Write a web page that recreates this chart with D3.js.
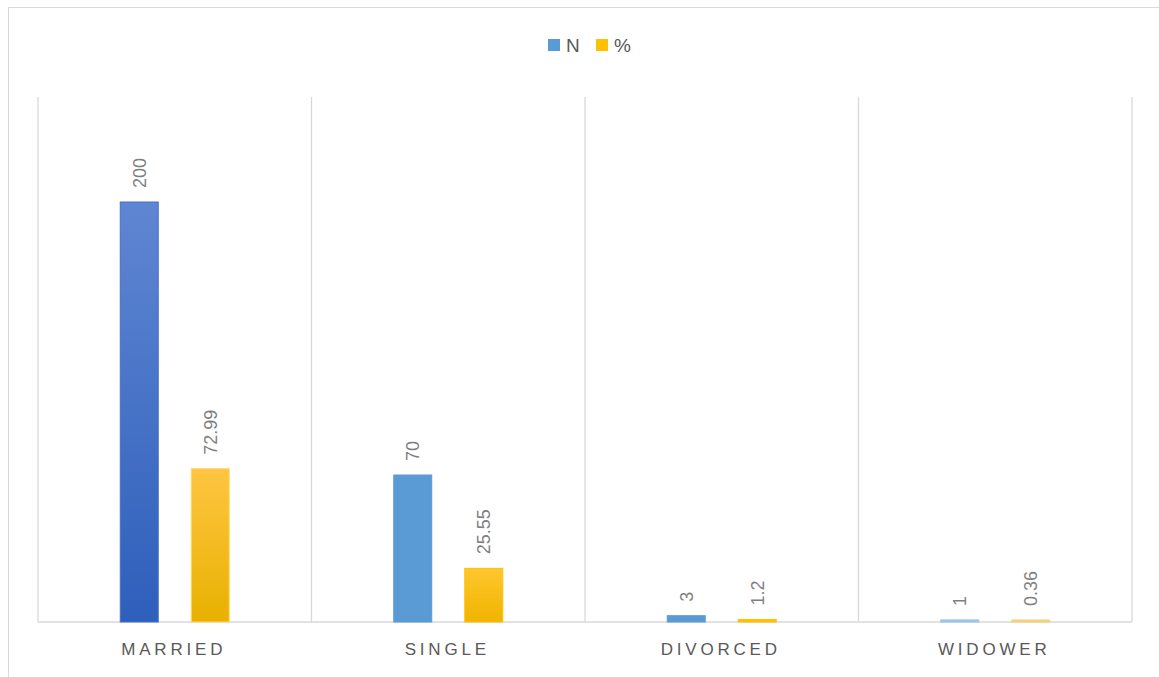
<!DOCTYPE html>
<html><head><meta charset="utf-8">
<script src="https://cdn.jsdelivr.net/npm/d3@7"></script>
<style>body{margin:0;background:#fff;}svg{display:block;}</style>
</head><body>
<svg id="chart" width="1159" height="677"></svg>
<script>
const categories = ["MARRIED", "SINGLE", "DIVORCED", "WIDOWER"];
const seriesNames = ["N", "%"];
const nValues = [200, 70, 3, 1];
const pctValues = [72.99, 25.55, 1.2, 0.36];
const nLabels = ["200", "70", "3", "1"];
const pctLabels = ["72.99", "25.55", "1.2", "0.36"];

const svg = d3.select("#chart");
const font = "'Liberation Sans', Arial, sans-serif";
const plot = {left: 38, right: 1132, top: 97, bottom: 622};

// outer chart border
svg.append("rect").attr("x", 8.5).attr("y", 7.5).attr("width", 1170).attr("height", 700)
  .attr("fill", "#fff").attr("stroke", "#d9d9d9").attr("stroke-width", 1);

const defs = svg.append("defs");
function grad(id, c1, c2) {
  const g = defs.append("linearGradient").attr("id", id).attr("x1", 0).attr("y1", 0).attr("x2", 0).attr("y2", 1);
  g.append("stop").attr("offset", "0%").attr("stop-color", c1);
  g.append("stop").attr("offset", "100%").attr("stop-color", c2);
}
grad("gBlueDark", "#5f86d2", "#2e5fbb");
grad("gGold", "#ffc542", "#e8b100");
grad("gGold2", "#ffc72e", "#f0b400");

const x0 = d3.scaleBand().domain(categories).range([plot.left, plot.right]).paddingInner(0).paddingOuter(0);
const y = d3.scaleLinear().domain([0, 250]).range([plot.bottom, plot.top]);
const x1 = d3.scaleBand().domain(seriesNames).range([x0.bandwidth() / 2 - 54.5, x0.bandwidth() / 2 + 54.5]).paddingInner(0.465).paddingOuter(0);

// vertical grid lines at category boundaries
const bounds = categories.map(c => x0(c)).concat([plot.right]);
svg.append("g").selectAll("line").data(bounds).join("line")
  .attr("x1", d => d).attr("x2", d => d).attr("y1", plot.top).attr("y2", plot.bottom)
  .attr("stroke", "#d9d9d9").attr("stroke-width", 1.3);

// baseline
svg.append("line").attr("x1", plot.left).attr("x2", plot.right).attr("y1", plot.bottom).attr("y2", plot.bottom)
  .attr("stroke", "#d9d9d9").attr("stroke-width", 1.3);

const nFills = ["url(#gBlueDark)", "#5b9bd5", "#5b9bd5", "#9dc3e6"];
const pFills = ["url(#gGold)", "url(#gGold2)", "#ffc000", "#f4d27a"];
const nStroke = ["#4472c4", "#5b9bd5", "#5b9bd5", "#9dc3e6"];
const pStroke = ["#ffd966", "#ffc000", "#ffc000", "#f4d27a"];

const data = [];
categories.forEach((c, i) => {
  data.push({cat: c, s: "N", v: nValues[i], label: nLabels[i], fill: nFills[i], stroke: nStroke[i]});
  data.push({cat: c, s: "%", v: pctValues[i], label: pctLabels[i], fill: pFills[i], stroke: pStroke[i]});
});

const g = svg.append("g");
g.selectAll("rect").data(data).join("rect")
  .attr("x", d => x0(d.cat) + x1(d.s))
  .attr("y", d => Math.min(y(d.v), plot.bottom - 2))
  .attr("width", x1.bandwidth())
  .attr("height", d => Math.max(plot.bottom - y(d.v), 2))
  .attr("fill", d => d.fill)
  .attr("stroke", d => d.stroke).attr("stroke-width", 1);

// value labels rotated
g.selectAll("text.val").data(data).join("text").attr("class", "val")
  .attr("transform", d => {
    const cx = x0(d.cat) + x1(d.s) + x1.bandwidth() / 2 + 6.5;
    const cy = Math.min(y(d.v), plot.bottom - 2) - 14;
    return `translate(${cx},${cy}) rotate(-90)`;
  })
  .attr("text-anchor", "start")
  .attr("font-family", font).attr("font-size", 18).attr("fill", "#7f7f7f")
  .text(d => d.label);

// category labels
svg.append("g").selectAll("text").data(categories).join("text")
  .attr("x", d => x0(d) + x0.bandwidth() / 2 - 1)
  .attr("y", 655)
  .attr("text-anchor", "middle")
  .attr("font-family", font).attr("font-size", 17).attr("fill", "#595959")
  .attr("letter-spacing", "3.8px")
  .text(d => d);

// legend
const legend = svg.append("g");
const legItems = [{name: "N", color: "#5b9bd5", x: 548}, {name: "%", color: "#ffc000", x: 596}];
legend.selectAll("rect").data(legItems).join("rect")
  .attr("x", d => d.x).attr("y", 39).attr("width", 12).attr("height", 12).attr("fill", d => d.color);
legend.selectAll("text").data(legItems).join("text")
  .attr("x", d => d.x + 18).attr("y", 52)
  .attr("font-family", font).attr("font-size", 19).attr("fill", "#595959")
  .text(d => d.name);
</script>
</body></html>
